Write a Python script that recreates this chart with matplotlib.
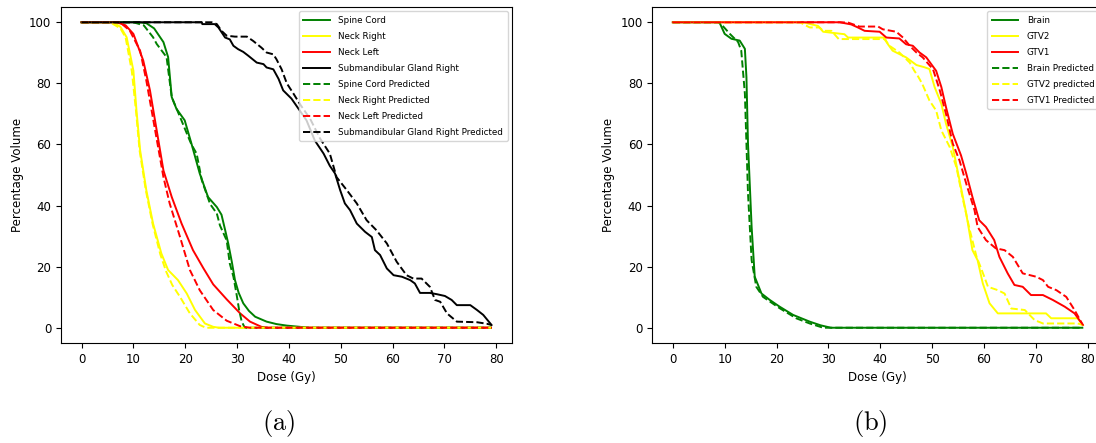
import matplotlib.pyplot as plt

plt.rcParams['mathtext.fontset'] = 'cm'

# ---- (a) head & neck structures ----
spine_dose = [0, 11, 12.5, 14, 15.8, 16.7, 17.4, 18.3, 19.9, 21.2, 22.8, 24.4, 26.1, 27.0, 27.7, 28.3,
              29.0, 29.6, 30.3, 31.2, 32.3, 33.5, 35.7, 37.6, 39.6, 42.1, 44, 79]
spine_vol = [100, 100, 99.7, 98, 93.5, 88.6, 75.5, 71.7, 67.9, 60.3, 50.5, 42.8, 39.5, 37.0, 32, 27.6,
             21.5, 15.6, 11.5, 8.0, 5.5, 3.6, 2.0, 1.2, 0.7, 0.3, 0, 0]

spine_pred_dose = [0, 10, 12, 13.8, 14.5, 16.4, 17.4, 19.0, 20.6, 21.2, 22.2, 23.2, 24.8, 26.1, 26.7,
                   28.0, 28.6, 29.3, 29.9, 30.4, 30.9, 31.5, 79]
spine_pred_vol = [100, 100, 99, 95.1, 92.9, 88.6, 75.5, 69, 62.4, 60, 57, 48.3, 40.5, 37.4, 33.5,
                  28.6, 21, 16.7, 11, 5.8, 2, 0, 0]

neck_r_dose = [0, 6.1, 7.5, 8.7, 10.0, 10.6, 11.3, 12.5, 13.8, 15.4, 16.7, 18.6, 20.3, 21.9, 23.8,
               25.4, 26.5, 79]
neck_r_vol = [100, 100, 98.5, 95.1, 84.2, 71.1, 58.1, 45, 34.1, 24.3, 18.9, 15.6, 11.2, 5.8, 1.4,
              0.3, 0, 0]

neck_r_pred_dose = [0, 5.5, 7.5, 8.5, 9.7, 10.5, 11.2, 12.4, 13.7, 15.2, 16.3, 17.5, 19.0, 20.9,
                    22.8, 24, 79]
neck_r_pred_vol = [100, 100, 98, 95, 84, 71, 58, 45, 34, 24, 18.5, 14, 10.1, 4.7, 0.9, 0, 0]

neck_l_dose = [0, 6.8, 8.5, 10.0, 11.9, 13.2, 14.5, 15.8, 17.4, 19.3, 21.5, 23.5, 25.4, 28.0, 30.6,
               32.5, 34.7, 36, 79]
neck_l_vol = [100, 100, 99, 96.2, 87.5, 77.7, 64.6, 51.5, 42.8, 34.1, 25.4, 19.5, 14.2, 9.3, 4.7,
              2.0, 0.3, 0, 0]

neck_l_pred_dose = [0, 7.4, 9.3, 11.3, 12.5, 14.2, 15.8, 17.0, 19.0, 20.9, 22.8, 25.4, 28.0, 30.6,
                    32.5, 79]
neck_l_pred_vol = [100, 100, 97.3, 90.7, 80.9, 64.6, 49.3, 40.7, 29.7, 18.9, 12.3, 5.8, 2.3, 0.5, 0, 0]

smg_dose = [0, 23.2, 23.3, 25.7, 26.4, 27.7, 28.6, 29.3, 30.2, 31.2, 32.2, 33.8, 35.1, 35.7, 37.0,
            38.0, 38.9, 40.5, 42.1, 43.4, 45.0, 46.7, 47.9, 48.9, 49.9, 50.8, 51.8, 53.1, 54.7,
            56.0, 56.6, 57.6, 58.9, 60.2, 61.8, 63.4, 64.3, 65.3, 67.2, 68.5, 70.1, 71.4, 72.4,
            75.0, 76.3, 77.5, 79.1]
smg_vol = [100, 100, 99.4, 99.4, 98.3, 95, 94.4, 92.3, 91.2, 90.3, 89, 86.8, 86.3, 85.2, 84.6,
           81.5, 77.7, 75, 71.1, 67.9, 61.3, 57, 53, 50.5, 45, 40.7, 38.5, 34.1, 31.4,
           29.7, 25.4, 23.8, 19.4, 17.2, 16.7, 15.6, 14.5, 11.4, 11.4, 11.0, 10.4, 9.1, 7.4,
           7.4, 5.8, 4.2, 0.9]

smg_pred_dose = [0, 25.1, 26.1, 27.0, 28.0, 29.6, 31.9, 33.1, 34.7, 35.7, 37.0, 37.6, 38.6, 39.6,
                 40.9, 42.1, 44.1, 46.0, 47.9, 49.2, 51.2, 53.1, 55.0, 56.9, 58.9, 60.8, 62.7,
                 64.0, 65.6, 67.2, 68.2, 69.2, 70.5, 72.4, 76.3, 78.2, 79.1]
smg_pred_vol = [100, 100, 99.4, 97.2, 95.6, 95.3, 95.3, 93.9, 91.7, 90.1, 89.5, 87.9, 84.6, 80,
                76.6, 73.3, 68.4, 62, 57, 49.3, 45, 40.7, 35.2, 31.9, 27.6, 21.6, 17.2,
                16.1, 16.1, 13.4, 9.1, 8.5, 4.7, 2.0, 1.8, 1.3, 0.9]

# ---- (b) brain case ----
brain_dose = [0, 8.7, 9.06, 10.0, 11.3, 12.9, 13.9, 14.2, 14.5, 15.2, 15.8, 17.1, 18.7, 20.6, 23.2,
              26.4, 28.5, 30.5, 79]
brain_vol = [100, 100, 99.7, 96.2, 94.6, 94.0, 91.3, 82, 60.3, 33, 16.7, 11.2, 9.1, 6.9, 4.2,
             2.0, 0.8, 0, 0]

brain_pred_dose = [0, 9.0, 11.0, 12.6, 13.2, 13.9, 14.5, 15.2, 16.1, 17.4, 20.6, 23.8, 26.4, 29, 79]
brain_pred_vol = [100, 100, 96.2, 93.5, 90.7, 76.6, 44, 22.1, 13.4, 10.1, 6.4, 3.1, 1.4, 0, 0]

gtv2_dose = [0, 25.1, 28.0, 29.0, 33.1, 33.8, 40.8, 41.5, 42.4, 45.0, 47.0, 48.5, 49.5, 50.5, 51.8,
             52.7, 54.0, 55.3, 56.6, 57.8, 58.8, 59.8, 61.1, 62.7, 72.0, 73.0, 78.1, 79.1]
gtv2_vol = [100, 100, 98.8, 96.9, 96.1, 95, 95, 92.8, 90.7, 88.5, 86, 85.3, 84.7, 78.8, 73.3,
            66.8, 59.2, 48.3, 37.4, 25.4, 22.1, 14.5, 8.0, 4.7, 4.7, 3.1, 3.1, 0.9]

gtv2_pred_dose = [0, 24.5, 26.4, 28.3, 29.0, 30.6, 32.0, 40.8, 41.8, 43.7, 45.7, 46.6, 47.2, 48.1,
                  49.5, 50.8, 51.8, 53.4, 54.7, 56.0, 57.3, 58.6, 59.6, 60.8, 62.7, 64.0, 65.3,
                  67.9, 69.8, 71.4, 78.1, 79.1]
gtv2_pred_vol = [100, 100, 98.3, 98.3, 97.2, 97.2, 94.5, 94.5, 92.3, 90.1, 86.8, 84.1, 82.6, 79.9,
                 74.4, 71.1, 64.6, 59.2, 52.6, 41.7, 31.9, 23.2, 18.9, 13.4, 12.3, 11.2, 6.3,
                 5.8, 2.5, 1.4, 1.4, 0.9]

gtv1_dose = [0, 32.2, 34.4, 35.7, 37.0, 39.9, 41.2, 43.7, 45.0, 46.3, 47.6, 48.9, 50.8, 51.8, 52.7,
             54.0, 55.6, 56.6, 57.8, 59.1, 60.4, 62.0, 63.0, 64.6, 65.9, 67.5, 69.1, 71.4, 73.3,
             75.6, 77.5, 79.1]
gtv1_vol = [100, 100, 99.3, 98.3, 97.2, 96.9, 95, 94.7, 92.8, 92.3, 90.1, 88.5, 84.1, 78.8, 72.2,
            63.5, 56.4, 50.5, 42.8, 35.2, 33, 28.7, 23.2, 17.8, 14, 13.4, 10.7, 10.7, 9.1,
            6.9, 4.7, 0.9]

gtv1_pred_dose = [0, 32.2, 33.8, 36.0, 39.6, 40.5, 43.1, 44.4, 45.7, 47.0, 48.2, 50.2, 51.5, 52.7,
                  54.0, 55.3, 56.6, 58.2, 58.8, 60.4, 62.3, 64.0, 65.6, 67.5, 70.1, 71.4, 72.4,
                  74.0, 75.9, 77.5, 79.1]
gtv1_pred_vol = [100, 100, 99.9, 98.6, 98.6, 97.7, 96.9, 95, 92.3, 90.1, 88.5, 84.6, 77.7, 70,
                 60.3, 54.8, 47.2, 38.5, 33, 28.7, 26, 25.4, 23.2, 17.8, 16.7, 15.6, 13.4,
                 12.3, 10.1, 5.8, 0.9]

fig = plt.figure(figsize=(10.96, 4.43), dpi=100)
ax1 = fig.add_axes([0.0557, 0.2257, 0.4115, 0.7585])
# right panel runs slightly past the figure edge
ax2 = fig.add_axes([0.5952, 0.2257, 0.4115, 0.7585])

lw = 1.4
ax1.plot(spine_dose, spine_vol, color='green', lw=lw, label='Spine Cord')
ax1.plot(neck_r_dose, neck_r_vol, color='yellow', lw=lw, label='Neck Right')
ax1.plot(neck_l_dose, neck_l_vol, color='red', lw=lw, label='Neck Left')
ax1.plot(smg_dose, smg_vol, color='black', lw=lw, label='Submandibular Gland Right')
ax1.plot(spine_pred_dose, spine_pred_vol, '--', color='green', lw=lw, label='Spine Cord Predicted')
ax1.plot(neck_r_pred_dose, neck_r_pred_vol, '--', color='yellow', lw=lw, label='Neck Right Predicted')
ax1.plot(neck_l_pred_dose, neck_l_pred_vol, '--', color='red', lw=lw, label='Neck Left Predicted')
ax1.plot(smg_pred_dose, smg_pred_vol, '--', color='black', lw=lw,
         label='Submandibular Gland Right Predicted')

ax2.plot(brain_dose, brain_vol, color='green', lw=lw, label='Brain')
ax2.plot(gtv2_dose, gtv2_vol, color='yellow', lw=lw, label='GTV2')
ax2.plot(gtv1_dose, gtv1_vol, color='red', lw=lw, label='GTV1')
ax2.plot(brain_pred_dose, brain_pred_vol, '--', color='green', lw=lw, label='Brain Predicted')
ax2.plot(gtv2_pred_dose, gtv2_pred_vol, '--', color='yellow', lw=lw, label='GTV2 predicted')
ax2.plot(gtv1_pred_dose, gtv1_pred_vol, '--', color='red', lw=lw, label='GTV1 Predicted')

for ax in (ax1, ax2):
    ax.set_xlabel('Dose (Gy)', fontsize=8.5)
    ax.set_ylabel('Percentage Volume', fontsize=8.5)
    ax.set_xticks(range(0, 81, 10))
    ax.set_yticks(range(0, 101, 20))
    ax.tick_params(labelsize=8.5)
    ax.legend(loc='upper right', fontsize=6.3, labelspacing=0.8, handlelength=3.0,
              handletextpad=1.0, borderpad=0.5)

fig.text(279 / 1096, 0.045, r'$\mathrm{(a)}$', fontsize=19, ha='center', va='center')
fig.text(870 / 1096, 0.045, r'$\mathrm{(b)}$', fontsize=19, ha='center', va='center')

fig.savefig('out.png', dpi=100)
